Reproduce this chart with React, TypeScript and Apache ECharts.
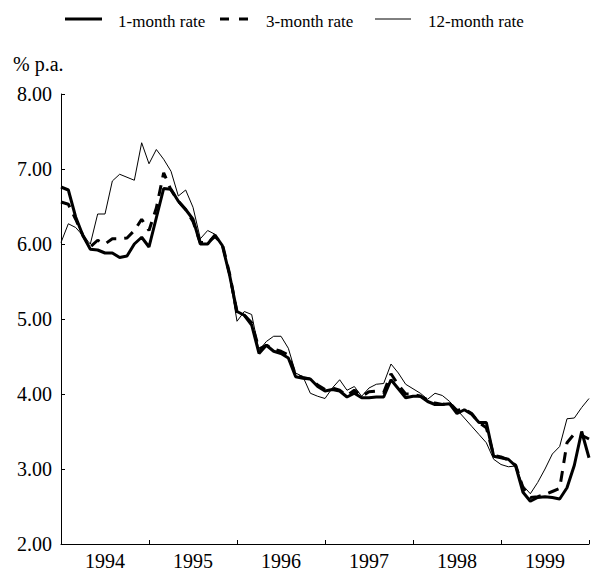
import React, { useEffect, useRef } from "react";
import * as echarts from "echarts";

const years = ["1994", "1995", "1996", "1997", "1998", "1999"];
const months: string[] = [];
for (const y of years) {
  for (let m = 1; m <= 12; m++) months.push(`${y}-${String(m).padStart(2, "0")}`);
}
months.push("2000-01");

const oneMonthRate = [
  6.76, 6.72, 6.36, 6.11, 5.93, 5.92, 5.88, 5.88, 5.82, 5.84, 6.0, 6.09,
  5.96, 6.35, 6.74, 6.73, 6.57, 6.46, 6.33, 6.0, 6.0, 6.12, 5.98, 5.58,
  5.1, 5.05, 4.92, 4.54, 4.65, 4.57, 4.54, 4.48, 4.23, 4.21, 4.2, 4.1,
  4.04, 4.06, 4.04, 3.96, 4.01, 3.95, 3.95, 3.96, 3.96, 4.19, 4.07, 3.95,
  3.97, 3.97, 3.9, 3.86, 3.86, 3.87, 3.74, 3.79, 3.73, 3.62, 3.62, 3.17,
  3.15, 3.13, 3.04, 2.69, 2.57, 2.62, 2.63, 2.62, 2.6, 2.75, 3.05, 3.5,
  3.15,
];

const threeMonthRate = [
  6.56, 6.53, 6.33, 6.11, 5.96, 6.05, 6.0, 6.07, 6.07, 6.08, 6.18, 6.33,
  6.18, 6.48, 6.95, 6.72, 6.57, 6.46, 6.3, 6.02, 6.02, 6.1, 6.0, 5.6,
  5.08, 5.05, 4.95, 4.6, 4.65, 4.6, 4.57, 4.52, 4.25, 4.22, 4.2, 4.12,
  4.06, 4.08, 4.05, 3.98, 4.05, 3.97, 4.03, 4.04, 4.02, 4.27, 4.12, 4.0,
  4.0, 3.97, 3.92, 3.88, 3.86, 3.88, 3.78, 3.8, 3.74, 3.62, 3.55, 3.18,
  3.16, 3.12, 3.05, 2.75, 2.62, 2.63, 2.66, 2.7, 2.74, 3.35, 3.47, 3.45,
  3.4,
];

const twelveMonthRate = [
  6.02, 6.27, 6.22, 6.11, 6.0, 6.4, 6.4, 6.84, 6.93, 6.89, 6.85, 7.35,
  7.07, 7.26, 7.13, 6.97, 6.64, 6.72, 6.49, 6.07, 6.18, 6.13, 5.96, 5.56,
  4.97, 5.1, 5.06, 4.58, 4.7, 4.77, 4.77, 4.61, 4.28, 4.23, 4.01, 3.97,
  3.94, 4.08, 4.19, 4.05, 4.1, 3.97, 4.08, 4.13, 4.14, 4.4, 4.28, 4.13,
  4.07, 4.01, 3.93, 4.01, 3.98, 3.9, 3.79, 3.68, 3.57, 3.46, 3.35, 3.13,
  3.06, 3.03, 3.04, 2.78, 2.67, 2.82, 3.0, 3.2, 3.3, 3.67, 3.68, 3.82,
  3.94,
];

const seriesNames = ["1-month rate", "3-month rate", "12-month rate"];
const yMin = 2;
const yMax = 8;
const yStep = 1;
const unitLabel = "% p.a.";

const FONT = "Liberation Serif, serif";

export default function App() {
  const ref = useRef<HTMLDivElement>(null);
  useEffect(() => {
    if (!ref.current) return;
    const chart = echarts.init(ref.current, undefined, { renderer: "svg" });
    const legendY = 19;
    const legendText = (x: number, text: string) => ({
      type: "text",
      x,
      y: legendY + 2,
      style: {
        text,
        fontFamily: FONT,
        fontSize: 17,
        fill: "#000",
        verticalAlign: "middle",
        align: "left",
      },
    });
    chart.setOption({
      animation: false,
      backgroundColor: "#ffffff",
      textStyle: { fontFamily: FONT, color: "#000" },
      graphic: [
        {
          type: "line",
          shape: { x1: 65, y1: legendY, x2: 102, y2: legendY },
          style: { stroke: "#000", lineWidth: 3 },
        },
        legendText(118, seriesNames[0]),
        {
          type: "line",
          shape: { x1: 220, y1: legendY, x2: 248, y2: legendY },
          style: { stroke: "#000", lineWidth: 3, lineDash: [9, 10] },
        },
        legendText(266, seriesNames[1]),
        {
          type: "line",
          shape: { x1: 375, y1: legendY, x2: 411, y2: legendY },
          style: { stroke: "#000", lineWidth: 1 },
        },
        legendText(428, seriesNames[2]),
        {
          type: "text",
          x: 13,
          y: 64,
          style: {
            text: unitLabel,
            fontFamily: FONT,
            fontSize: 20,
            fill: "#000",
            verticalAlign: "middle",
            align: "left",
          },
        },
      ],
      grid: { left: 61, top: 94, width: 528, height: 453 },
      xAxis: {
        type: "category",
        data: months,
        boundaryGap: false,
        axisLine: { show: true, lineStyle: { color: "#000", width: 1 } },
        axisTick: {
          show: true,
          inside: true,
          length: 4,
          interval: (i: number) => i % 12 === 0,
          lineStyle: { color: "#000" },
        },
        axisLabel: {
          interval: (i: number) => i % 12 === 6,
          formatter: (v: string) => v.slice(0, 4),
          fontFamily: FONT,
          fontSize: 20,
          color: "#000",
          margin: 7,
        },
        splitLine: { show: false },
      },
      yAxis: {
        type: "value",
        min: yMin,
        max: yMax,
        interval: yStep,
        axisLine: { show: true, lineStyle: { color: "#000", width: 1 } },
        axisTick: { show: true, inside: true, length: 4, lineStyle: { color: "#000" } },
        axisLabel: {
          formatter: (v: number) => v.toFixed(2),
          fontFamily: FONT,
          fontSize: 20,
          color: "#000",
          margin: 9,
        },
        splitLine: { show: false },
      },
      series: [
        {
          name: seriesNames[0],
          type: "line",
          data: oneMonthRate,
          symbol: "none",
          lineStyle: { color: "#000", width: 3, type: "solid" },
          z: 3,
        },
        {
          name: seriesNames[1],
          type: "line",
          data: threeMonthRate,
          symbol: "none",
          lineStyle: { color: "#000", width: 3, type: [11, 8] },
          z: 2,
        },
        {
          name: seriesNames[2],
          type: "line",
          data: twelveMonthRate,
          symbol: "none",
          lineStyle: { color: "#000", width: 1, type: "solid" },
          z: 1,
        },
      ],
    });
    return () => chart.dispose();
  }, []);
  return (
    <div
      ref={ref}
      style={{ position: "absolute", left: 0, top: 0, width: 603, height: 571 }}
    />
  );
}
